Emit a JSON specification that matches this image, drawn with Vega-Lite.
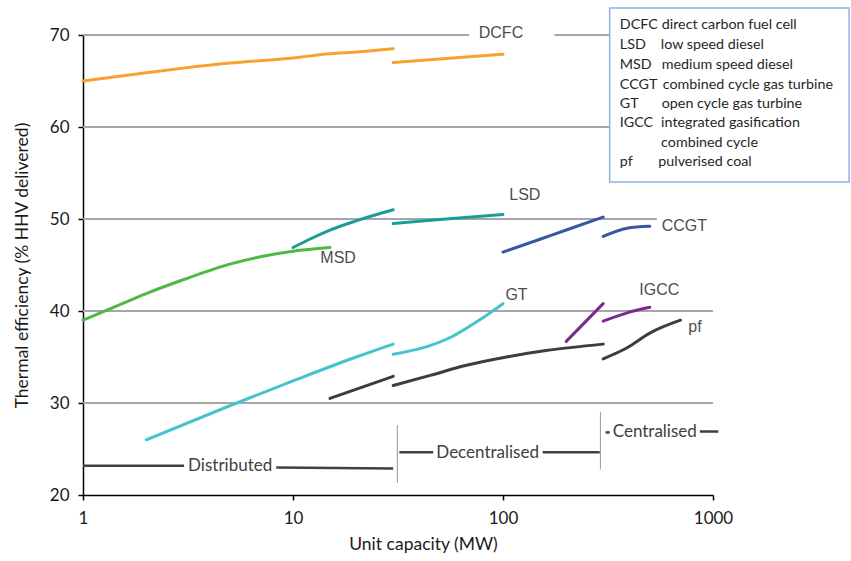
{
  "$schema": "https://vega.github.io/schema/vega-lite/v6.json",
  "width": 630,
  "height": 460,
  "autosize": "none",
  "padding": {"left": 83, "top": 35, "right": 138, "bottom": 66},
  "background": "white",
  "config": {"view": {"stroke": null}, "font": "Lato"},
  "encoding": {
    "x": {"field": "x", "type": "quantitative", "title": "Unit capacity (MW)",
      "scale": {"type": "log", "domain": [1, 1000], "nice": false},
      "axis": {"values": [1, 10, 100, 1000], "format": "d", "grid": false, "labelFlush": false,
        "domainColor": "#000", "domainWidth": 1.5, "tickColor": "#000", "tickSize": 5, "tickWidth": 1.5,
        "labelFontSize": 17, "labelColor": "#1a1a1a", "labelPadding": 10, "labelFont": "Lato",
        "titleFontSize": 17.5, "titleFontWeight": "normal", "titleColor": "#1a1a1a",
        "titlePadding": 9, "titleFont": "Lato", "titleX": 340}},
    "y": {"field": "y", "type": "quantitative", "title": "Thermal efficiency (% HHV delivered)",
      "scale": {"domain": [20, 70], "nice": false, "zero": false},
      "axis": {"values": [20, 30, 40, 50, 60, 70], "grid": false,
        "domainColor": "#000", "domainWidth": 1.5, "tickColor": "#000", "tickSize": 5, "tickWidth": 1.5,
        "labelFontSize": 17, "labelColor": "#1a1a1a", "labelPadding": 9, "labelFont": "Lato",
        "titleFontSize": 17.5, "titleFontWeight": "normal",
        "titleColor": "#1a1a1a", "titlePadding": 18, "titleFont": "Lato"}}
  },
  "layer": [
    {
      "data": {"values": [
        {"y": 70, "x": 1, "x2": 69},
        {"y": 70, "x": 176, "x2": 330},
        {"y": 60, "x": 1, "x2": 330},
        {"y": 50, "x": 1, "x2": 540},
        {"y": 40, "x": 1, "x2": 1000},
        {"y": 30, "x": 1, "x2": 1000}
      ]},
      "mark": {"type": "rule", "color": "#A6A6A6", "strokeWidth": 2},
      "encoding": {
        "x2": {"field": "x2"}
      }
    },
    {
      "data": {"values": [
        {"series": "DCFC", "seg": "DCFC-a", "x": 1, "y": 65.0},
        {"series": "DCFC", "seg": "DCFC-a", "x": 2, "y": 65.9},
        {"series": "DCFC", "seg": "DCFC-a", "x": 3, "y": 66.4},
        {"series": "DCFC", "seg": "DCFC-a", "x": 5, "y": 66.95},
        {"series": "DCFC", "seg": "DCFC-a", "x": 10, "y": 67.5},
        {"series": "DCFC", "seg": "DCFC-a", "x": 15, "y": 67.95},
        {"series": "DCFC", "seg": "DCFC-a", "x": 20, "y": 68.15},
        {"series": "DCFC", "seg": "DCFC-a", "x": 30, "y": 68.5},
        {"series": "DCFC", "seg": "DCFC-b", "x": 30, "y": 67.0},
        {"series": "DCFC", "seg": "DCFC-b", "x": 50, "y": 67.4},
        {"series": "DCFC", "seg": "DCFC-b", "x": 100, "y": 67.9},
        {"series": "MSD", "seg": "MSD", "x": 1, "y": 39.0},
        {"series": "MSD", "seg": "MSD", "x": 1.5, "y": 40.7},
        {"series": "MSD", "seg": "MSD", "x": 2, "y": 41.9},
        {"series": "MSD", "seg": "MSD", "x": 3, "y": 43.4},
        {"series": "MSD", "seg": "MSD", "x": 5, "y": 45.1},
        {"series": "MSD", "seg": "MSD", "x": 7, "y": 45.9},
        {"series": "MSD", "seg": "MSD", "x": 10, "y": 46.5},
        {"series": "MSD", "seg": "MSD", "x": 15, "y": 46.9},
        {"series": "LSD", "seg": "LSD-a", "x": 10, "y": 46.9},
        {"series": "LSD", "seg": "LSD-a", "x": 12, "y": 47.8},
        {"series": "LSD", "seg": "LSD-a", "x": 15, "y": 48.8},
        {"series": "LSD", "seg": "LSD-a", "x": 20, "y": 49.8},
        {"series": "LSD", "seg": "LSD-a", "x": 30, "y": 51.0},
        {"series": "LSD", "seg": "LSD-b", "x": 30, "y": 49.5},
        {"series": "LSD", "seg": "LSD-b", "x": 50, "y": 49.95},
        {"series": "LSD", "seg": "LSD-b", "x": 100, "y": 50.5},
        {"series": "CCGT", "seg": "CCGT-a", "x": 100, "y": 46.4},
        {"series": "CCGT", "seg": "CCGT-a", "x": 150, "y": 47.8},
        {"series": "CCGT", "seg": "CCGT-a", "x": 200, "y": 48.8},
        {"series": "CCGT", "seg": "CCGT-a", "x": 300, "y": 50.2},
        {"series": "CCGT", "seg": "CCGT-b", "x": 300, "y": 48.1},
        {"series": "CCGT", "seg": "CCGT-b", "x": 390, "y": 49.0},
        {"series": "CCGT", "seg": "CCGT-b", "x": 500, "y": 49.2},
        {"series": "GT", "seg": "GT-a", "x": 2, "y": 26.0},
        {"series": "GT", "seg": "GT-a", "x": 5, "y": 29.7},
        {"series": "GT", "seg": "GT-a", "x": 10, "y": 32.4},
        {"series": "GT", "seg": "GT-a", "x": 20, "y": 35.0},
        {"series": "GT", "seg": "GT-a", "x": 30, "y": 36.4},
        {"series": "GT", "seg": "GT-b", "x": 30, "y": 35.3},
        {"series": "GT", "seg": "GT-b", "x": 43, "y": 36.1},
        {"series": "GT", "seg": "GT-b", "x": 57, "y": 37.2},
        {"series": "GT", "seg": "GT-b", "x": 77, "y": 39.0},
        {"series": "GT", "seg": "GT-b", "x": 100, "y": 40.8},
        {"series": "pf", "seg": "pf-a", "x": 15, "y": 30.5},
        {"series": "pf", "seg": "pf-a", "x": 30, "y": 32.9},
        {"series": "pf", "seg": "pf-b", "x": 30, "y": 31.9},
        {"series": "pf", "seg": "pf-b", "x": 45, "y": 33.0},
        {"series": "pf", "seg": "pf-b", "x": 67, "y": 34.1},
        {"series": "pf", "seg": "pf-b", "x": 104, "y": 35.0},
        {"series": "pf", "seg": "pf-b", "x": 160, "y": 35.7},
        {"series": "pf", "seg": "pf-b", "x": 300, "y": 36.4},
        {"series": "pf", "seg": "pf-c", "x": 300, "y": 34.8},
        {"series": "pf", "seg": "pf-c", "x": 390, "y": 36.0},
        {"series": "pf", "seg": "pf-c", "x": 500, "y": 37.6},
        {"series": "pf", "seg": "pf-c", "x": 700, "y": 39.0},
        {"series": "IGCC", "seg": "IGCC-a", "x": 200, "y": 36.7},
        {"series": "IGCC", "seg": "IGCC-a", "x": 300, "y": 40.8},
        {"series": "IGCC", "seg": "IGCC-b", "x": 300, "y": 38.9},
        {"series": "IGCC", "seg": "IGCC-b", "x": 390, "y": 39.8},
        {"series": "IGCC", "seg": "IGCC-b", "x": 500, "y": 40.4}
      ]},
      "mark": {"type": "line", "interpolate": "monotone", "strokeWidth": 3, "strokeCap": "round"},
      "encoding": {
        "color": {"field": "series", "type": "nominal", "legend": null,
          "scale": {"domain": ["DCFC", "MSD", "LSD", "CCGT", "GT", "pf", "IGCC"],
            "range": ["#F9A12E", "#4CB944", "#1C9C98", "#3B55A6", "#45C3CB", "#3D3D3D", "#7D2A8E"]}},
        "detail": {"field": "seg"}
      }
    },
    {
      "data": {"values": [
        {"seg": "dist1", "x": 1, "y": 23.18},
        {"seg": "dist1", "x": 3.03, "y": 23.18},
        {"seg": "dist2", "x": 8.32, "y": 23.0},
        {"seg": "dist2", "x": 30, "y": 22.88},
        {"seg": "dec1", "x": 32.1, "y": 24.65},
        {"seg": "dec1", "x": 46.5, "y": 24.65},
        {"seg": "dec2", "x": 154.5, "y": 24.65},
        {"seg": "dec2", "x": 289, "y": 24.65},
        {"seg": "cen1", "x": 308, "y": 26.8},
        {"seg": "cen1", "x": 322, "y": 26.8},
        {"seg": "cen2", "x": 866, "y": 26.9},
        {"seg": "cen2", "x": 1060, "y": 26.9}
      ]},
      "mark": {"type": "line", "color": "#404040", "strokeWidth": 2.5},
      "encoding": {
        "detail": {"field": "seg"}
      }
    },
    {
      "data": {"values": [
        {"x": 31.4, "y": 21.3, "y2": 27.6},
        {"x": 291, "y": 22.8, "y2": 29.0}
      ]},
      "mark": {"type": "rule", "color": "#999999", "strokeWidth": 1},
      "encoding": {
        "y2": {"field": "y2"}
      }
    },
    {
      "data": {"values": [
        {"label": "Distributed", "x": 5.02, "y": 23.1},
        {"label": "Decentralised", "x": 84.5, "y": 24.6},
        {"label": "Centralised", "x": 528, "y": 26.8}
      ]},
      "mark": {"type": "text", "font": "Lato", "fontSize": 17, "color": "#404040", "align": "center", "baseline": "middle"},
      "encoding": {
        "text": {"field": "label"}
      }
    },
    {
      "data": {"values": [
        {"label": "DCFC", "x": 97.8, "y": 70.2},
        {"label": "LSD", "x": 127, "y": 52.6},
        {"label": "CCGT", "x": 730, "y": 49.2},
        {"label": "MSD", "x": 16.4, "y": 45.8},
        {"label": "GT", "x": 116, "y": 41.7},
        {"label": "IGCC", "x": 555, "y": 42.3},
        {"label": "pf", "x": 820, "y": 38.3}
      ]},
      "mark": {"type": "text", "font": "Liberation Sans", "fontSize": 16, "color": "#4D4D4D", "align": "center", "baseline": "middle"},
      "encoding": {
        "text": {"field": "label"}
      }
    },
    {
      "data": {"values": [{"x": 322, "x2": 4447, "y": 72.93, "y2": 54.02}]},
      "mark": {"type": "rect", "fill": "white", "stroke": "#8DB3E2", "strokeWidth": 1.5},
      "encoding": {
        "x2": {"field": "x2"},
        "y2": {"field": "y2"}
      }
    },
    {
      "data": {"values": [
        {"t": "DCFC", "x": 360, "y": 71.09},
        {"t": "direct carbon fuel cell", "x": 570, "y": 71.09},
        {"t": "LSD", "x": 360, "y": 68.91},
        {"t": "low speed diesel", "x": 564, "y": 68.91},
        {"t": "MSD", "x": 360, "y": 66.74},
        {"t": "medium speed diesel", "x": 570, "y": 66.74},
        {"t": "CCGT", "x": 360, "y": 64.57},
        {"t": "combined cycle gas turbine", "x": 576, "y": 64.57},
        {"t": "GT", "x": 360, "y": 62.5},
        {"t": "open cycle gas turbine", "x": 570, "y": 62.5},
        {"t": "IGCC", "x": 360, "y": 60.43},
        {"t": "integrated gasification", "x": 566, "y": 60.43},
        {"t": "combined cycle", "x": 566, "y": 58.26},
        {"t": "pf", "x": 360, "y": 56.2},
        {"t": "pulverised coal", "x": 549, "y": 56.2}
      ]},
      "mark": {"type": "text", "font": "Lato", "fontSize": 14.3, "color": "#262626", "align": "left", "baseline": "middle"},
      "encoding": {
        "text": {"field": "t"}
      }
    }
  ]
}
